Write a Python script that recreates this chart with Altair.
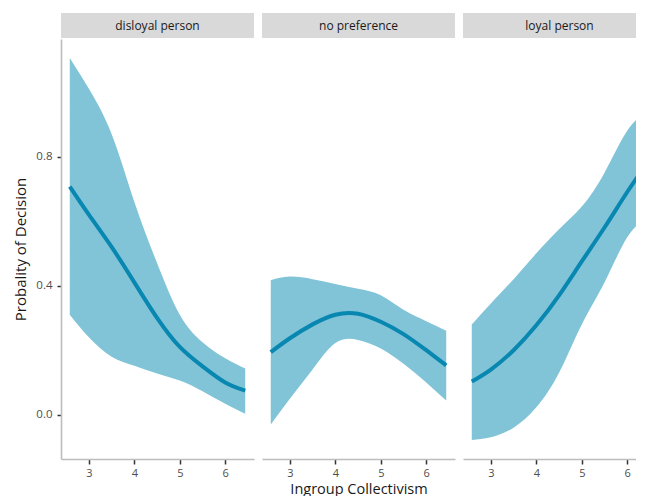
import altair as alt
import pandas as pd

# ---- data ----
panels = ["disloyal person", "no preference", "loyal person"]
x_vals = [2.58, 3.0, 3.5, 4.0, 4.5, 5.0, 5.5, 6.0, 6.44]

fit_disloyal = [0.707, 0.62, 0.52, 0.41, 0.30, 0.21, 0.15, 0.10, 0.075]
upr_disloyal = [1.105, 1.01, 0.87, 0.66, 0.47, 0.31, 0.225, 0.175, 0.143]
lwr_disloyal = [0.31, 0.24, 0.18, 0.152, 0.128, 0.106, 0.073, 0.034, 0.003]

fit_nopref = [0.194, 0.237, 0.28, 0.31, 0.313, 0.288, 0.25, 0.20, 0.153]
upr_nopref = [0.417, 0.428, 0.42, 0.405, 0.39, 0.37, 0.325, 0.29, 0.26]
lwr_nopref = [-0.03, 0.05, 0.14, 0.222, 0.232, 0.205, 0.158, 0.10, 0.044]

fit_loyal = [0.103, 0.14, 0.20, 0.277, 0.37, 0.475, 0.58, 0.69, 0.78]
upr_loyal = [0.28, 0.345, 0.42, 0.50, 0.575, 0.645, 0.75, 0.88, 0.94]
lwr_loyal = [-0.078, -0.07, -0.04, 0.023, 0.13, 0.28, 0.41, 0.55, 0.61]

x_ticks = [3, 4, 5, 6]
y_ticks = [0.0, 0.4, 0.8]

series = {
    "disloyal person": (fit_disloyal, lwr_disloyal, upr_disloyal),
    "no preference": (fit_nopref, lwr_nopref, upr_nopref),
    "loyal person": (fit_loyal, lwr_loyal, upr_loyal),
}

FONT = "Open Sans"
LINE = "#0887b1"
BAND = "#81c4d8"
W, H = 193, 420

xscale = alt.Scale(domain=[2.387, 6.633], nice=False, zero=False)
yscale = alt.Scale(domain=[-0.137, 1.164], nice=False, zero=False)


def make_panel(name, idx):
    fit, lwr, upr = series[name]
    df = pd.DataFrame({"x": x_vals, "fit": fit, "lwr": lwr, "upr": upr})
    base = alt.Chart(df)

    x_axis = alt.Axis(
        values=x_ticks, grid=False, domainColor="#bdbdbd", domainWidth=1.6,
        tickColor="#333333", tickSize=5, tickWidth=1.5, labelColor="#4d4d4d",
        labelFontSize=11, labelPadding=3, labelFont=FONT,
        title="Ingroup Collectivism" if idx == 1 else None,
        titleFont=FONT, titleFontSize=14.5, titleFontWeight="normal",
        titleColor="#1a1a1a", titlePadding=4,
    )
    if idx == 0:
        y_axis = alt.Axis(
            values=y_ticks, format=".1f", grid=False, domainColor="#bdbdbd",
            domainWidth=1.6, tickColor="#333333", tickSize=4, tickWidth=1.5,
            labelColor="#4d4d4d", labelFontSize=11.5, labelPadding=5,
            labelFont=FONT, title="Probality of Decision", titleFont=FONT,
            titleFontSize=15, titleFontWeight="normal", titleColor="#1a1a1a",
            titlePadding=7,
        )
    else:
        y_axis = None

    band = base.mark_area(color=BAND, opacity=1, interpolate="natural").encode(
        x=alt.X("x:Q", scale=xscale, axis=x_axis),
        y=alt.Y("lwr:Q", scale=yscale, axis=y_axis),
        y2="upr:Q",
    )
    line = base.mark_line(color=LINE, strokeWidth=4, interpolate="natural").encode(
        x=alt.X("x:Q", scale=xscale),
        y=alt.Y("fit:Q", scale=yscale),
    )
    hdr_df = pd.DataFrame({"label": [name]})
    hdr_rect = alt.Chart(hdr_df).mark_rect(color="#d9d9d9").encode(
        x=alt.value(0), x2=alt.value(W), y=alt.value(-26), y2=alt.value(-1)
    )
    hdr_text = alt.Chart(hdr_df).mark_text(
        font=FONT, fontSize=12, color="#1a1a1a", baseline="middle", align="center"
    ).encode(x=alt.value(W / 2), y=alt.value(-13), text="label:N")
    return alt.layer(band, line, hdr_rect, hdr_text).properties(width=W, height=H)


chart = (
    alt.hconcat(*[make_panel(p, i) for i, p in enumerate(panels)], spacing=8)
    .properties(
        padding={"left": 5, "top": 5, "right": -20, "bottom": 0},
        background="white",
    )
    .configure_view(stroke="transparent", strokeWidth=0)
)

chart.save("out.html", embed_options={"renderer": "svg", "actions": False})
